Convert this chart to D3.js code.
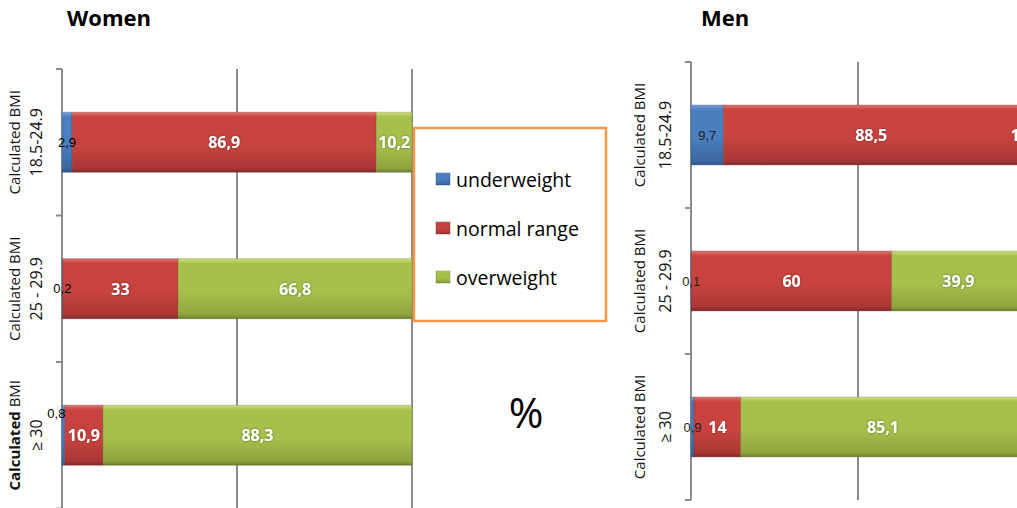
<!DOCTYPE html>
<html><head><meta charset="utf-8">
<script src="https://cdn.jsdelivr.net/npm/d3@7"></script>
<style>
html,body{margin:0;padding:0;background:#fff;overflow:hidden}
svg{display:block}
text{font-family:"Open Sans",sans-serif}
</style></head>
<body>
<script>
// ---- data ----
const categories = ["18.5-24.9", "25 - 29.9", "≥ 30"];
const seriesNames = ["underweight", "normal range", "overweight"];
const womenUnder  = [2.9, 0.2, 0.8];
const womenNormal = [86.9, 33, 10.9];
const womenOver   = [10.2, 66.8, 88.3];
const menUnder    = [9.7, 0.1, 0.9];
const menNormal   = [88.5, 60, 14];
const menOver     = [1.8, 39.9, 85.1];
const gridTicks   = [0, 50, 100];
const panelTitles = ["Women", "Men"];

const W = 1017, H = 508;
const svg = d3.select("body").append("svg").attr("width", W).attr("height", H);
const defs = svg.append("defs");

const colors = [
  {base:"#4a7ebf", light:"#7aa3d6", dark:"#3a679f", edge:"#2f5588"},
  {base:"#c8433f", light:"#e07470", dark:"#a93735", edge:"#7e2a28"},
  {base:"#a6c04c", light:"#cfe07a", dark:"#8fa53d", edge:"#6b7c2e"}
];
colors.forEach((c,i)=>{
  const g = defs.append("linearGradient").attr("id","grad"+i)
    .attr("x1",0).attr("y1",0).attr("x2",0).attr("y2",1);
  g.append("stop").attr("offset","0").attr("stop-color",c.light);
  g.append("stop").attr("offset","0.08").attr("stop-color",c.base);
  g.append("stop").attr("offset","0.55").attr("stop-color",c.base);
  g.append("stop").attr("offset","0.93").attr("stop-color",c.dark);
  g.append("stop").attr("offset","1").attr("stop-color",c.edge);
});
const shadow = defs.append("filter").attr("id","halo").attr("x","-20%").attr("y","-20%").attr("width","140%").attr("height","140%");
shadow.append("feGaussianBlur").attr("in","SourceAlpha").attr("stdDeviation",0.8).attr("result","b");
shadow.append("feFlood").attr("flood-color","#000").attr("flood-opacity",0.45);
shadow.append("feComposite").attr("in2","b").attr("operator","in").attr("result","s");
const m = shadow.append("feMerge");
m.append("feMergeNode").attr("in","s");
m.append("feMergeNode").attr("in","SourceGraphic");

const fmt = v => String(v).replace(".", ",");

function drawPanel(cfg){
  const series = cfg.series;
  const x = d3.scaleLinear().domain([0,100]).range([cfg.x0, cfg.x100]);
  const y = d3.scaleBand().domain(categories).range([cfg.top, cfg.bottom])
    .paddingInner(0.59).paddingOuter(0.295);
  const g = svg.append("g");

  // gridlines
  g.selectAll("line.grid").data(gridTicks.filter(t=>t>0)).join("line")
    .attr("x1",d=>x(d)).attr("x2",d=>x(d))
    .attr("y1",cfg.top).attr("y2",cfg.bottom)
    .attr("stroke","#8c8c8c").attr("stroke-width",2);

  // axis
  const axis = d3.axisLeft(y).tickSize(0).tickFormat("");
  const ag = g.append("g").attr("transform",`translate(${x(0)},0)`).call(axis);
  ag.select(".domain").remove();
  g.append("line").attr("x1",x(0)).attr("x2",x(0)).attr("y1",cfg.top).attr("y2",cfg.bottom)
    .attr("stroke","#8c8c8c").attr("stroke-width",2);
  const step = y.step();
  const bounds = d3.range(categories.length+1).map(i=>cfg.top + i*step);
  g.selectAll("line.tk").data(bounds).join("line")
    .attr("x1",x(0)-6).attr("x2",x(0)).attr("y1",d=>d).attr("y2",d=>d)
    .attr("stroke","#8c8c8c").attr("stroke-width",2);

  // stacked bars
  const rows = categories.map((c,i)=>({cat:c, vals:series.map(s=>s[i])}));
  rows.forEach((r,ri)=>{
    let acc = 0;
    r.vals.forEach((v,si)=>{
      const x0 = x(acc), x1 = x(acc+v);
      acc += v;
      g.append("rect")
        .attr("x",x0).attr("y",y(r.cat))
        .attr("width",Math.max(0.8,x1-x0)).attr("height",y.bandwidth())
        .attr("fill",`url(#grad${si})`)
        .attr("stroke",colors[si].edge).attr("stroke-opacity",0.35).attr("stroke-width",1);
    });
  });
  // labels
  rows.forEach((r,ri)=>{
    let acc = 0;
    r.vals.forEach((v,si)=>{
      const cx = x(acc + v/2);
      acc += v;
      const off = (cfg.labelOffsets[ri] && cfg.labelOffsets[ri][si]) || [0,0];
      const t = g.append("text")
        .attr("x",cx+off[0]).attr("y",y(r.cat)+y.bandwidth()/2+off[1])
        .attr("text-anchor","middle").attr("dominant-baseline","central")
        .text(fmt(v));
      if(si===0){
        t.attr("font-size",13).attr("fill",cfg.smallColor).style("font-family","'Liberation Sans',sans-serif");
      } else {
        t.attr("font-size",16).attr("font-weight","bold").attr("fill","#fff").attr("filter","url(#halo)");
      }
    });
  });

  // category labels (rotated)
  categories.forEach((c,i)=>{
    const cy = y(c) + y.bandwidth()/2;
    const t1 = g.append("text")
      .attr("transform",`translate(${x(0)-cfg.lab1},${cy}) rotate(-90)`)
      .attr("text-anchor","middle").attr("font-size",15).attr("fill","#111");
    if(cfg.boldCalc && i===categories.length-1){
      t1.append("tspan").attr("font-weight","bold").text("Calculated");
      t1.append("tspan").text(" BMI");
    } else {
      t1.text("Calculated BMI");
    }
    g.append("text")
      .attr("transform",`translate(${x(0)-cfg.lab2},${cy}) rotate(-90)`)
      .attr("text-anchor","middle").attr("font-size",16).attr("fill","#111")
      .text(c);
  });

  // title
  svg.append("text").attr("x",cfg.titleX).attr("y",26)
    .attr("font-size",22).attr("font-weight","bold").attr("fill","#000")
    .text(cfg.title);
}

drawPanel({
  series:[womenUnder, womenNormal, womenOver],
  x0:62, x100:412, top:69, bottom:508.5,
  title:panelTitles[0], titleX:67, boldCalc:true,
  lab1:42, lab2:20, smallColor:"#000",
  labelOffsets:{2:{0:[-7,-22]}}
});
drawPanel({
  series:[menUnder, menNormal, menOver],
  x0:691, x100:1025, top:62, bottom:500,
  title:panelTitles[1], titleX:701, boldCalc:false,
  lab1:46, lab2:20, smallColor:"#222",
  labelOffsets:{}
});

// legend
const lg = svg.append("g");
lg.append("rect").attr("x",414).attr("y",128).attr("width",192).attr("height",193)
  .attr("fill","#fff").attr("stroke","#f79646").attr("stroke-width",2.5);
seriesNames.forEach((s,i)=>{
  const yy = 179 + i*49;
  lg.append("rect").attr("x",436).attr("y",yy-6).attr("width",14).attr("height",12)
    .attr("fill",`url(#grad${i})`).attr("stroke",colors[i].edge).attr("stroke-opacity",0.4);
  lg.append("text").attr("x",456).attr("y",yy).attr("dominant-baseline","central")
    .attr("font-size",19.5).attr("fill","#000").text(s);
});

// percent sign
svg.append("text").attr("x",526).attr("y",428).attr("text-anchor","middle")
  .attr("font-size",42).attr("fill","#000").text("%");
</script>
</body></html>
